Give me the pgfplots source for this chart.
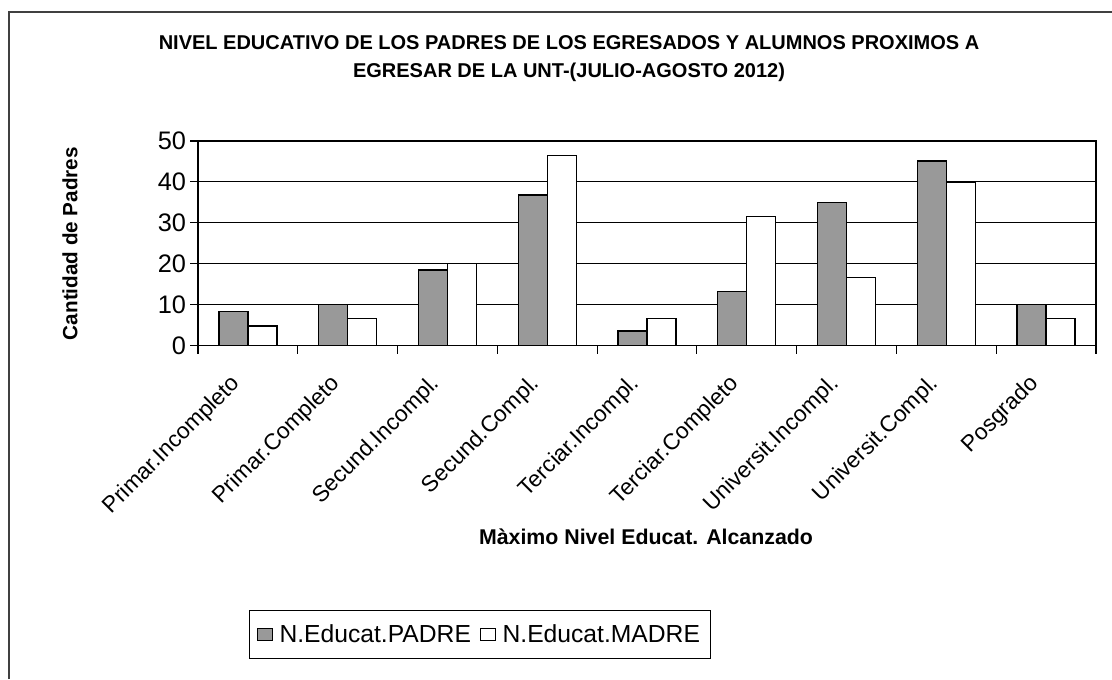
\documentclass[border=0pt]{standalone}
\usepackage{fontspec}
\setmainfont{Liberation Sans}
\usepackage{pgfplots}
\pgfplotsset{compat=1.18}
\definecolor{padre}{RGB}{153,153,153}
\begin{document}
\begin{tikzpicture}
\path[use as bounding box] (0,0) rectangle (834pt,509.25pt);
\draw[line width=1.2pt, black!75] (6.75pt,0) -- (6.75pt,500.25pt) -- (834pt,500.25pt);
\node[align=center, font=\fontsize{15}{21}\selectfont\bfseries] at (426.75pt,465pt)
  {NIVEL EDUCATIVO DE LOS PADRES DE LOS EGRESADOS Y ALUMNOS PROXIMOS A\\EGRESAR DE LA UNT-(JULIO-AGOSTO 2012)};
\begin{axis}[
  at={(148.5pt,250pt)}, anchor=south west,
  scale only axis, width=673.5pt, height=153.5pt,
  ybar=0pt, bar width=21.75pt,
  xmin=-0.5, xmax=8.5, ymin=0, ymax=50,
  ytick={0,10,20,30,40,50},
  xtick={0,...,8},
  xticklabels={Primar.Incompleto,Primar.Completo,Secund.Incompl.,Secund.Compl.,Terciar.Incompl.,Terciar.Completo,Universit.Incompl.,Universit.Compl.,Posgrado},
  minor xtick={-0.5,0.5,...,8.5},
  major x tick style={draw=none},
  tick align=outside, tick pos=left,
  major tick length=6pt, minor tick length=6pt,
  every tick/.style={black, line width=0.8pt},
  minor tick style={black, line width=0.8pt},
  /pgf/number format/assume math mode=true,
  yticklabel style={font=\fontsize{19}{21}\selectfont, xshift=0.5pt},
  xticklabel style={xshift=-14pt, yshift=-13pt, rotate=45, anchor=north east, inner sep=1pt, font=\fontsize{17}{19}\selectfont},
  ymajorgrids, major grid style={black, line width=0.7pt},
  axis line style={black, line width=1pt},
  legend style={at={(0.314,-1.411)}, anchor=center, legend columns=2, draw=black, line width=0.8pt,
    font=\fontsize{18.5}{20}\selectfont, inner xsep=6pt, inner ysep=8.5pt,
    /tikz/every odd column/.append style={column sep=3pt},
    /tikz/every even column/.append style={column sep=5pt}},
  legend image code/.code={\draw[#1, line width=0.7pt] (0pt,-4.5pt) rectangle (11pt,4.5pt);},
]
\addplot[fill=padre, draw=black, line width=1pt] coordinates {(0,8.3) (1,10) (2,18.5) (3,36.8) (4,3.6) (5,13.2) (6,35) (7,45.1) (8,10)};
\addplot[fill=white, draw=black, line width=1pt] coordinates {(0,4.8) (1,6.6) (2,20) (3,46.5) (4,6.6) (5,31.5) (6,16.6) (7,40) (8,6.6)};
\legend{N.Educat.PADRE, N.Educat.MADRE}
\end{axis}
\node[rotate=90, font=\fontsize{15.5}{18}\selectfont\bfseries] at (52.5pt,326.6pt) {Cantidad de Padres};
\node[font=\fontsize{16}{18}\selectfont\bfseries] at (484.5pt,106.5pt) {Màximo Nivel Educat. Alcanzado};
\end{tikzpicture}
\end{document}
